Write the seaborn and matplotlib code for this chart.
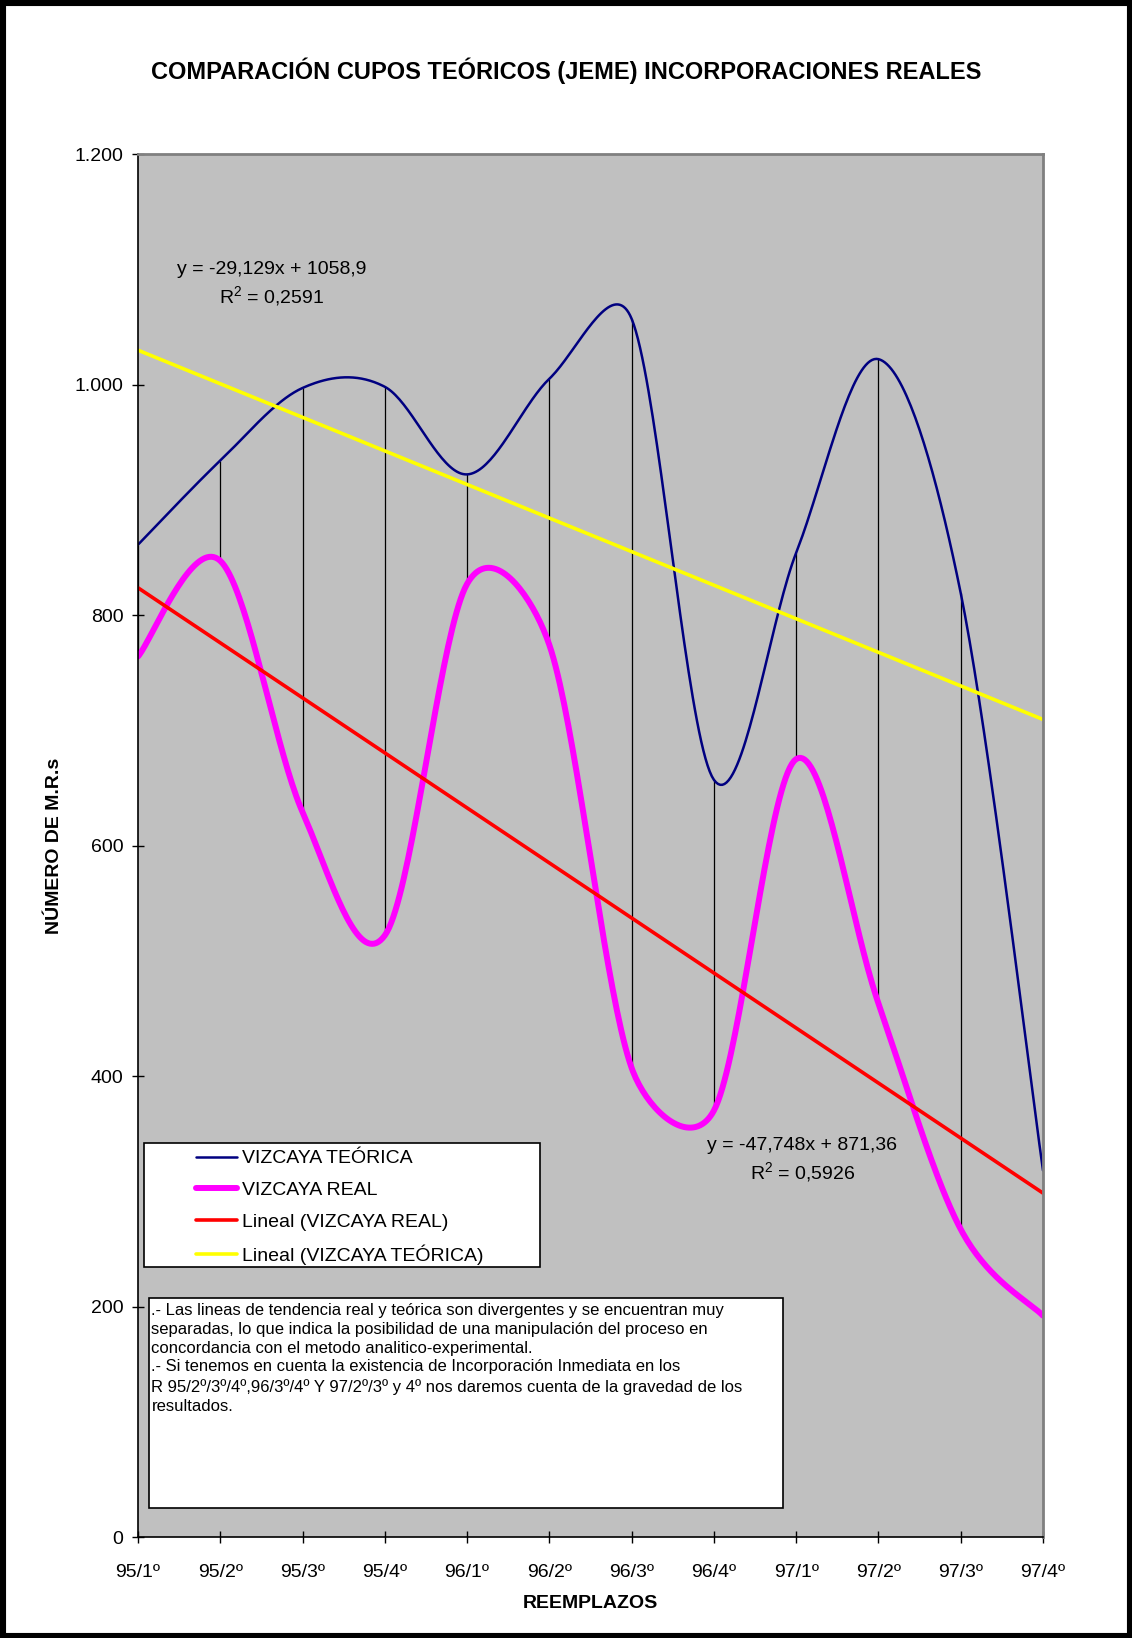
import numpy as np
import pandas as pd
import matplotlib
matplotlib.use("Agg")
import matplotlib.pyplot as plt
import seaborn as sns
from matplotlib.patches import Rectangle


# Datos

reemplazos = ["95/1º", "95/2º", "95/3º", "95/4º", "96/1º", "96/2º",
              "96/3º", "96/4º", "97/1º", "97/2º", "97/3º", "97/4º"]

vizcaya_teorica = [861, 934, 997, 998, 922, 1005, 1057, 657, 854, 1022, 819, 318]
vizcaya_real = [764, 847, 629, 522, 827, 774, 407, 370, 675, 463, 267, 192]

# lineas de tendencia (pendiente, ordenada) segun las ecuaciones del grafico
tendencia_teorica = [-29.129, 1058.9]
tendencia_real = [-47.748, 871.36]

y_ticks = [0, 200, 400, 600, 800, 1000, 1200]
y_tick_labels = ["0", "200", "400", "600", "800", "1.000", "1.200"]

eq_teorica = ["y = -29,129x + 1058,9", "R$^{2}$ = 0,2591"]
eq_real = ["y = -47,748x + 871,36", "R$^{2}$ = 0,5926"]

nota = (
    ".- Las lineas de tendencia real y teórica son divergentes y se encuentran muy\n"
    "separadas, lo que indica la posibilidad de una manipulación del proceso en\n"
    "concordancia con el metodo analitico-experimental.\n"
    ".- Si tenemos en cuenta la existencia de Incorporación Inmediata en los\n"
    "R 95/2º/3º/4º,96/3º/4º Y 97/2º/3º y 4º nos daremos cuenta de la gravedad de los\n"
    "resultados."
)


# Suavizado tipo Excel (bezier, control limitado a media cuerda)

def suavizar(xs, ys, sx, sy, n=40):
    pts = np.column_stack([np.asarray(xs, float) * sx, np.asarray(ys, float) * sy])
    ext = np.vstack([pts[0], pts, pts[-1]])
    t = np.linspace(0, 1, n)[:, None]
    trozos = []
    for i in range(len(pts) - 1):
        p0, p1, p2, p3 = ext[i], ext[i + 1], ext[i + 2], ext[i + 3]
        d12 = np.hypot(*(p2 - p1))
        d02 = np.hypot(*(p2 - p0))
        d13 = np.hypot(*(p3 - p1))
        f = 1 / 6
        g = 1 / 6
        if d02 / 6 >= d12 / 2 and d02 > 0:
            f = d12 / d02 / 2
        if d13 / 6 >= d12 / 2 and d13 > 0:
            g = d12 / d13 / 2
        c1 = p1 + (p2 - p0) * f
        c2 = p2 - (p3 - p1) * g
        seg = ((1 - t) ** 3) * p1 + 3 * ((1 - t) ** 2) * t * c1 \
            + 3 * (1 - t) * (t ** 2) * c2 + (t ** 3) * p2
        trozos.append(seg if i == 0 else seg[1:])
    curva = np.vstack(trozos)
    curva[:, 0] /= sx
    curva[:, 1] /= sy
    return curva


sns.set_style("white")
plt.rcParams["font.family"] = ["Liberation Sans", "DejaVu Sans"]
plt.rcParams["mathtext.fontset"] = "custom"
plt.rcParams["mathtext.rm"] = "Liberation Sans"
plt.rcParams["text.color"] = "black"
plt.rcParams["axes.labelcolor"] = "black"
plt.rcParams["xtick.color"] = "black"
plt.rcParams["ytick.color"] = "black"

x = np.arange(1, len(reemplazos) + 1)

df = pd.DataFrame({
    "x": x,
    "teorica": vizcaya_teorica,
    "real": vizcaya_real,
})
df["lin_real"] = tendencia_real[0] * df["x"] + tendencia_real[1]
df["lin_teorica"] = tendencia_teorica[0] * df["x"] + tendencia_teorica[1]

fig = plt.figure(figsize=(11.32, 16.38), dpi=100)
fig.patch.set_facecolor("white")

pos = [0.12191, 0.06166, 0.79947, 0.84432]
ax = fig.add_axes(pos)
ax.set_facecolor("#C0C0C0")

# escala en pixeles para el suavizado
sx = pos[2] * 1132 / (len(reemplazos) - 1)
sy = pos[3] * 1638 / 1200

curva_t = suavizar(df["x"], df["teorica"], sx, sy)
curva_r = suavizar(df["x"], df["real"], sx, sy)

# lineas de union entre series
ax.vlines(
    df["x"],
    np.minimum(df["teorica"], df["real"]),
    np.maximum(df["teorica"], df["real"]),
    color="black",
    linewidth=0.9,
    zorder=1.5
)

sns.lineplot(
    x=curva_t[:, 0], y=curva_t[:, 1],
    ax=ax, color="#000080", linewidth=1.8,
    estimator=None, sort=False,
    label="VIZCAYA TEÓRICA", zorder=2
)

sns.lineplot(
    x=curva_r[:, 0], y=curva_r[:, 1],
    ax=ax, color="#FF00FF", linewidth=4.3,
    estimator=None, sort=False,
    label="VIZCAYA REAL", zorder=2.1
)

sns.lineplot(
    data=df, x="x", y="lin_real",
    ax=ax, color="#FF0000", linewidth=2.6,
    label="Lineal (VIZCAYA REAL)", zorder=2.2
)

sns.lineplot(
    data=df, x="x", y="lin_teorica",
    ax=ax, color="#FFFF00", linewidth=2.6,
    label="Lineal (VIZCAYA TEÓRICA)", zorder=2.3
)

ax.set_xlim(1, len(reemplazos))
ax.set_ylim(0, 1200)

ax.set_xticks(x)
ax.set_xticklabels(reemplazos, fontsize=14)
ax.set_yticks(y_ticks)
ax.set_yticklabels(y_tick_labels, fontsize=14)

ax.tick_params(axis="x", direction="inout", length=9, width=1, pad=15, colors="black")
ax.tick_params(axis="y", direction="inout", length=9, width=1, pad=6, colors="black")
ax.tick_params(bottom=True, left=True)

ax.set_xlabel("REEMPLAZOS", fontsize=14, fontweight="bold", labelpad=10)
ax.set_ylabel("NÚMERO DE M.R.s", fontsize=14, fontweight="bold", labelpad=8)

for lado in ["left", "bottom"]:
    ax.spines[lado].set_color("black")
    ax.spines[lado].set_linewidth(1.2)
for lado in ["top", "right"]:
    ax.spines[lado].set_color("#808080")
    ax.spines[lado].set_linewidth(2)
    ax.spines[lado].set_visible(True)

# ecuaciones
ax.text(2.624, 1100, eq_teorica[0], fontsize=14, ha="center", va="center", zorder=5)
ax.text(2.624, 1076, eq_teorica[1], fontsize=14, ha="center", va="center", zorder=5)
ax.text(9.075, 340, eq_real[0], fontsize=14, ha="center", va="center", zorder=5)
ax.text(9.075, 316, eq_real[1], fontsize=14, ha="center", va="center", zorder=5)

# leyenda
ax.add_patch(Rectangle((0.00663, 0.1952), 0.4376, 0.0897, transform=ax.transAxes,
                       facecolor="white", edgecolor="black", linewidth=1.2, zorder=6))
handles, labels = ax.get_legend_handles_labels()
leg = ax.legend(
    handles, labels,
    loc="center left",
    bbox_to_anchor=(0.0641, 0.2383),
    frameon=False,
    fontsize=14,
    borderpad=0,
    borderaxespad=0,
    handlelength=2.1,
    handletextpad=0.25,
    labelspacing=0.72
)
leg.set_zorder(7)
for texto in leg.get_texts():
    texto.set_color("black")

# nota
ax.add_patch(Rectangle((0.0125, 0.02097), 0.7002, 0.1518, transform=ax.transAxes,
                       facecolor="white", edgecolor="black", linewidth=1.2, zorder=6))
ax.text(0.0149, 0.1695, nota, transform=ax.transAxes, fontsize=12,
        ha="left", va="top", linespacing=1.33, zorder=7)

fig.text(0.5, 0.9567, "COMPARACIÓN CUPOS TEÓRICOS (JEME) INCORPORACIONES REALES",
         fontsize=17, fontweight="bold", ha="center", va="center")

# marco exterior
fig.patches.append(Rectangle((0, 0), 1, 1, transform=fig.transFigure,
                             fill=False, edgecolor="black", linewidth=8, zorder=10))

plt.savefig("out.png", dpi=100)
plt.close()
